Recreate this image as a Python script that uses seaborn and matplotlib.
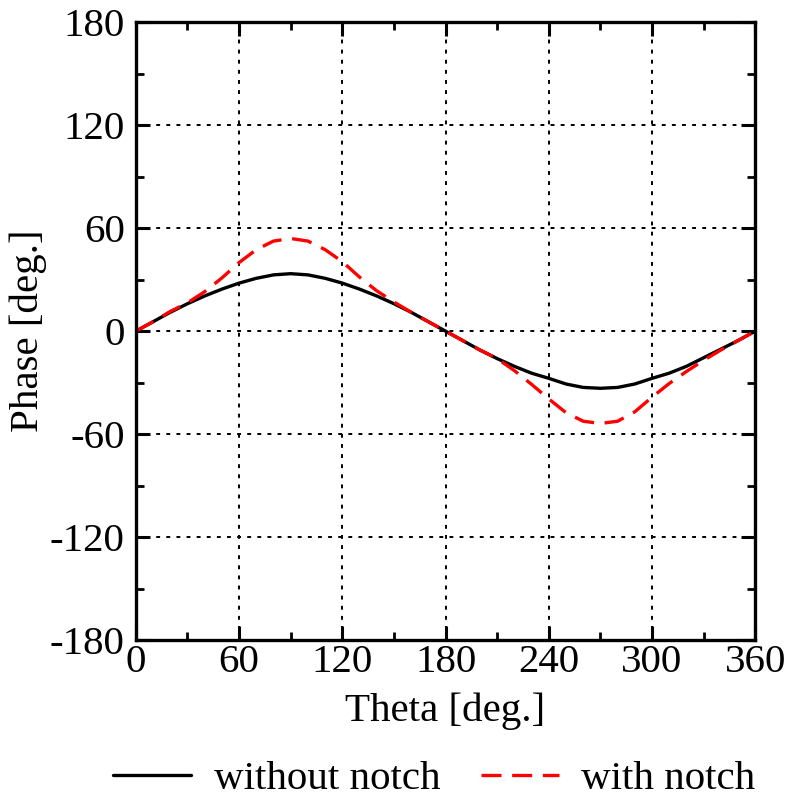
import numpy as np
import pandas as pd
import matplotlib
matplotlib.use("Agg")
import matplotlib.pyplot as plt
import seaborn as sns
from matplotlib.ticker import MultipleLocator

theta = [0, 10, 20, 30, 40, 50, 60, 70, 80, 90, 100, 110, 120, 130, 140, 150, 160, 170, 180,
         190, 200, 210, 220, 230, 240, 250, 260, 270, 280, 290, 300, 310, 320, 330, 340, 350, 360]
without_notch = [0, 5.5, 11, 16, 20.5, 24.5, 28, 30.8, 32.8, 33.5, 32.8, 30.8, 28, 24.5, 20.5, 16, 11, 5.5, 0,
                 -5.5, -11, -16, -20.5, -24.5, -27.5, -30.8, -32.8, -33.3, -32.8, -30.8, -27.5, -24.5, -20.5, -15.5, -10.5, -5.5, 0]
with_notch = [0, 5.5, 11.5, 16.5, 23, 31, 40, 47.5, 52.5, 54, 52.5, 47.5, 40.5, 31.5, 23.5, 17, 11, 5.5, 0,
              -5.5, -11, -16, -23, -31, -39.5, -47.5, -52.5, -53.8, -52.5, -47, -38.5, -30.5, -23.5, -17, -11, -5.5, 0]
series_names = ["without notch", "with notch"]

df = pd.DataFrame({
    "Theta": theta * 2,
    "Phase": without_notch + with_notch,
    "Series": [series_names[0]] * len(theta) + [series_names[1]] * len(theta),
})

sns.set_style("ticks")
plt.rcParams["font.family"] = ["Liberation Serif", "DejaVu Serif"]
plt.rcParams["axes.unicode_minus"] = False
plt.rcParams["text.color"] = "black"
plt.rcParams["axes.labelcolor"] = "black"
plt.rcParams["xtick.color"] = "black"
plt.rcParams["ytick.color"] = "black"
plt.rcParams["xtick.labelcolor"] = "black"
plt.rcParams["ytick.labelcolor"] = "black"

FS = 29.5

fig = plt.figure(figsize=(7.9, 7.97), dpi=100)
ax = fig.add_axes([0.172, 0.197, 0.784, 0.775])

sns.lineplot(data=df, x="Theta", y="Phase", hue="Series", style="Series",
             palette={series_names[0]: "black", series_names[1]: "#ff0000"},
             dashes={series_names[0]: "", series_names[1]: (6, 3.2)},
             linewidth=2.4, ax=ax, legend=True, sort=False)

ax.set_xlim(0, 360)
ax.set_ylim(-180, 180)
ax.xaxis.set_major_locator(MultipleLocator(60))
ax.xaxis.set_minor_locator(MultipleLocator(30))
ax.yaxis.set_major_locator(MultipleLocator(60))
ax.yaxis.set_minor_locator(MultipleLocator(30))

ax.grid(True, which="major", color="black", linestyle=(0, (2, 3.2)), linewidth=1.4)
ax.set_axisbelow(True)

for sp in ax.spines.values():
    sp.set_linewidth(2.4)
    sp.set_color("black")
    sp.set_visible(True)

ax.tick_params(which="both", direction="in", top=True, right=True, color="black")
ax.tick_params(which="major", length=10, width=2.2, labelsize=FS)
ax.tick_params(axis="x", which="major", pad=3)
ax.tick_params(axis="y", which="major", pad=8)
ax.tick_params(which="minor", length=6, width=2.0)

ax.set_xlabel("Theta [deg.]", fontsize=FS, labelpad=8, color="black")
ax.set_ylabel("Phase [deg.]", fontsize=FS, labelpad=2, color="black")

handles, labels = ax.get_legend_handles_labels()
leg = ax.legend(handles, labels, loc="upper center", bbox_to_anchor=(0.482, -0.135), ncol=2,
                frameon=False, fontsize=FS, handlelength=1.9, columnspacing=1.0, handletextpad=0.55)
for t in leg.get_texts():
    t.set_color("black")

fig.savefig("out.png", dpi=100)
